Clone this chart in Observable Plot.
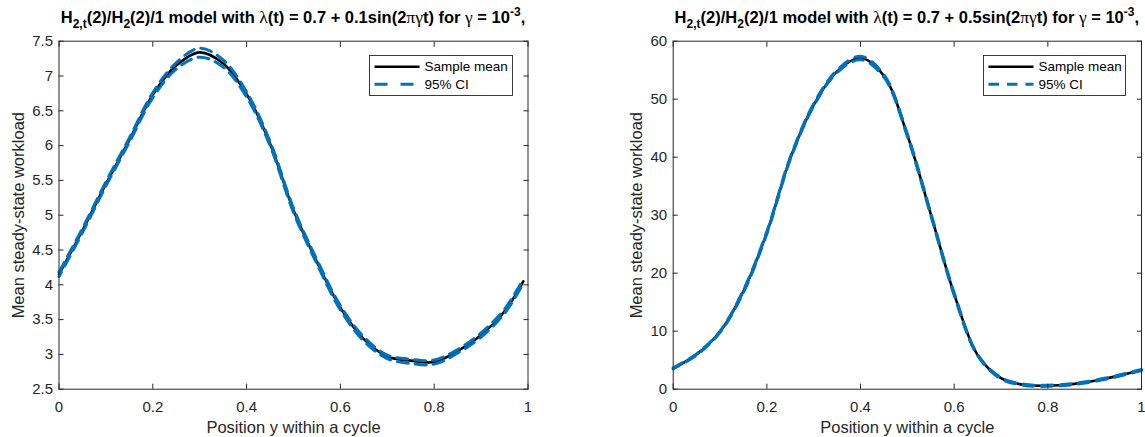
<!DOCTYPE html>
<html>
<head>
<meta charset="utf-8">
<script src="https://cdn.jsdelivr.net/npm/d3@7"></script>
<script src="https://cdn.jsdelivr.net/npm/@observablehq/plot@0.6"></script>
<style>
  html, body { margin: 0; padding: 0; background: #fff; }
  body { width: 1145px; height: 437px; overflow: hidden; position: relative; font-family: "Liberation Sans", Arial, sans-serif; }
  .panel { position: absolute; top: 0; }
  .panel svg { overflow: visible; }
</style>
</head>
<body>
<div id="left" class="panel" style="left:0px"></div>
<div id="right" class="panel" style="left:572px"></div>
<script>
// ---------- data ----------
const xTicks = [0, 0.2, 0.4, 0.6, 0.8, 1];
const legendLabels = ["Sample mean", "95% CI"];
const xLabel = "Position y within a cycle";
const yLabel = "Mean steady-state workload";

// left panel: lambda(t) = 0.7 + 0.1 sin(2 pi gamma t)
const xLeft     = [0, 0.05, 0.1, 0.15, 0.2, 0.25, 0.3, 0.35, 0.4, 0.45, 0.5, 0.55, 0.6, 0.65, 0.7, 0.75, 0.8, 0.85, 0.9, 0.95, 0.99];
const meanLeft  = [4.15, 4.78, 5.45, 6.08, 6.73, 7.15, 7.34, 7.18, 6.74, 6.03, 5.07, 4.33, 3.67, 3.22, 2.97, 2.91, 2.89, 3.05, 3.28, 3.62, 4.05];
const upperLeft = [4.18, 4.81, 5.48, 6.11, 6.76, 7.19, 7.40, 7.23, 6.77, 6.06, 5.10, 4.36, 3.70, 3.25, 2.99, 2.93, 2.92, 3.07, 3.31, 3.65, 4.08];
const lowerLeft = [4.12, 4.75, 5.42, 6.05, 6.69, 7.10, 7.27, 7.13, 6.70, 6.00, 5.04, 4.30, 3.64, 3.19, 2.94, 2.87, 2.86, 3.02, 3.25, 3.59, 4.02];
const yTicksLeft = [2.5, 3, 3.5, 4, 4.5, 5, 5.5, 6, 6.5, 7, 7.5];

// right panel: lambda(t) = 0.7 + 0.5 sin(2 pi gamma t)
const xRight     = [0, 0.05, 0.1, 0.15, 0.2, 0.25, 0.3, 0.35, 0.4, 0.45, 0.5, 0.55, 0.6, 0.65, 0.7, 0.75, 0.8, 0.85, 0.9, 0.95, 1];
const meanRight  = [3.6, 6.0, 9.9, 16.9, 27.0, 39.8, 49.0, 54.8, 57.1, 54.0, 43.8, 30.2, 16.4, 5.9, 1.9, 0.75, 0.6, 0.85, 1.45, 2.3, 3.3];
const upperRight = [3.7, 6.1, 10.0, 17.1, 27.2, 40.0, 49.2, 55.0, 57.4, 54.2, 44.0, 30.4, 16.6, 6.0, 2.0, 0.85, 0.7, 0.95, 1.55, 2.4, 3.4];
const lowerRight = [3.5, 5.9, 9.8, 16.7, 26.8, 39.6, 48.8, 54.6, 56.8, 53.8, 43.6, 30.0, 16.2, 5.8, 1.8, 0.65, 0.5, 0.75, 1.35, 2.2, 3.2];
const yTicksRight = [0, 10, 20, 30, 40, 50, 60];

const titleLeftCoef = "0.1";
const titleRightCoef = "0.5";

// ---------- drawing ----------
const AX = "#262626";
const BLUE = "#0072BD";
const FONT = "'Liberation Sans', Arial, Helvetica, sans-serif";

function makePanel(cfg) {
  const rows = ys => cfg.xs.map((x, i) => ({x, y: ys[i]}));
  const H = 437;
  const svg = Plot.plot({
    width: cfg.width,
    height: H,
    marginLeft: cfg.ml,
    marginRight: cfg.mr,
    marginTop: 40.7,
    marginBottom: 48.3,
    x: {domain: [0, 1]},
    y: {domain: cfg.yDomain},
    style: {fontFamily: FONT, background: "transparent", color: AX},
    marks: [
      Plot.line(rows(cfg.mean), {x: "x", y: "y", stroke: "#000", strokeWidth: 2.6, curve: "catmull-rom"}),
      Plot.line(rows(cfg.upper), {x: "x", y: "y", stroke: BLUE, strokeWidth: 3, strokeDasharray: cfg.dash, curve: "catmull-rom"}),
      Plot.line(rows(cfg.lower), {x: "x", y: "y", stroke: BLUE, strokeWidth: 3, strokeDasharray: cfg.dash, strokeDashoffset: cfg.dashOffset, curve: "catmull-rom"}),
      Plot.frame({stroke: AX, strokeWidth: 1}),
      Plot.axisX({ticks: xTicks, anchor: "bottom", tickSize: 5, dy: -5, fill: "none", stroke: AX, label: null}),
      Plot.axisX({ticks: xTicks, anchor: "top", tickSize: 5, dy: 5, fill: "none", stroke: AX, label: null}),
      Plot.axisX({ticks: xTicks, anchor: "bottom", tickSize: 0, tickPadding: 12, tickFormat: d => String(d), fill: AX, fontSize: 15, label: null}),
      Plot.axisY({ticks: cfg.yTicks, anchor: "left", tickSize: 5, dx: 5, fill: "none", stroke: AX, label: null}),
      Plot.axisY({ticks: cfg.yTicks, anchor: "right", tickSize: 5, dx: -5, fill: "none", stroke: AX, label: null}),
      Plot.axisY({ticks: cfg.yTicks, anchor: "left", tickSize: 0, tickPadding: 6, tickFormat: d => String(d), fill: AX, fontSize: 15, label: null}),
      Plot.text([xLabel], {text: d => d, frameAnchor: "bottom", dy: 38.5, textAnchor: "middle", lineAnchor: "middle", fontSize: 16.5, fill: AX}),
      Plot.text([yLabel], {text: d => d, frameAnchor: "left", dx: cfg.ylabDx, rotate: -90, textAnchor: "middle", lineAnchor: "middle", fontSize: 16.5, fill: AX})
    ]
  });

  const s = d3.select(svg);
  // title
  const cx = cfg.ml + (cfg.width - cfg.ml - cfg.mr) / 2;
  const t = s.append("text")
    .attr("x", cx).attr("y", 22.5)
    .attr("text-anchor", "middle")
    .attr("font-family", FONT)
    .attr("font-weight", "bold")
    .attr("font-size", 16.5)
    .attr("fill", "#000");
  const greek = "'Liberation Serif', 'DejaVu Serif', serif";
  const parts = [
    {t: "H"}, {t: "2,t", sub: true}, {t: "(2)/H"}, {t: "2", sub: true},
    {t: "(2)/1 model with "}, {t: "\u03BB", g: true}, {t: "(t) = 0.7 + " + cfg.coef + "sin(2"},
    {t: "\u03C0\u03B3", g: true}, {t: "t) for "}, {t: "\u03B3", g: true}, {t: " = 10"},
    {t: "-3", sup: true}, {t: ","}
  ];
  let shift = 0;
  for (const p of parts) {
    const ts = t.append("tspan").text(p.t);
    let target = p.sub ? 5 : p.sup ? -7 : 0;
    if (target !== shift) { ts.attr("dy", target - shift); shift = target; }
    if (p.sub || p.sup) ts.attr("font-size", 12);
    if (p.g) ts.attr("font-family", greek).attr("font-weight", "normal").attr("font-size", 17.5);
  }

  // legend
  const L = cfg.legend;
  const g = s.append("g").attr("font-family", FONT).attr("font-size", 13.5).attr("fill", "#000").attr("text-anchor", "start");
  g.append("rect").attr("x", L.x).attr("y", 55.5).attr("width", L.w).attr("height", 40)
    .attr("fill", "#fff").attr("stroke", AX).attr("stroke-width", 0.9);
  g.append("line").attr("x1", L.x + 5).attr("x2", L.x + 50).attr("y1", 66.7).attr("y2", 66.7)
    .attr("stroke", "#000").attr("stroke-width", 2.6);
  g.append("line").attr("x1", L.x + 5).attr("x2", L.x + 50).attr("y1", 84.3).attr("y2", 84.3)
    .attr("stroke", BLUE).attr("stroke-width", 3).attr("stroke-dasharray", L.dash);
  g.append("text").attr("x", L.x + 55).attr("y", 66.7).attr("dy", "0.35em").attr("text-anchor", "start").text(legendLabels[0]);
  g.append("text").attr("x", L.x + 55).attr("y", 84.3).attr("dy", "0.35em").attr("text-anchor", "start").text(legendLabels[1]);

  cfg.target.appendChild(svg);
}

makePanel({
  target: document.getElementById("left"),
  xs: xLeft, mean: meanLeft, upper: upperLeft, lower: lowerLeft,
  yDomain: [2.5, 7.5], yTicks: yTicksLeft,
  width: 572, ml: 58.5, mr: 44.5, ylabDx: -40.5,
  dash: "11,7", dashOffset: 6, coef: titleLeftCoef,
  legend: {x: 369.5, w: 143, dash: "13,13"}
});
makePanel({
  target: document.getElementById("right"),
  xs: xRight, mean: meanRight, upper: upperRight, lower: lowerRight,
  yDomain: [0, 60], yTicks: yTicksRight,
  width: 573, ml: 100.7, mr: 4, ylabDx: -36.7,
  dash: "10.5,8", dashOffset: 4, coef: titleRightCoef,
  legend: {x: 411.5, w: 142, dash: "10.5,8"}
});
</script>
</body>
</html>
